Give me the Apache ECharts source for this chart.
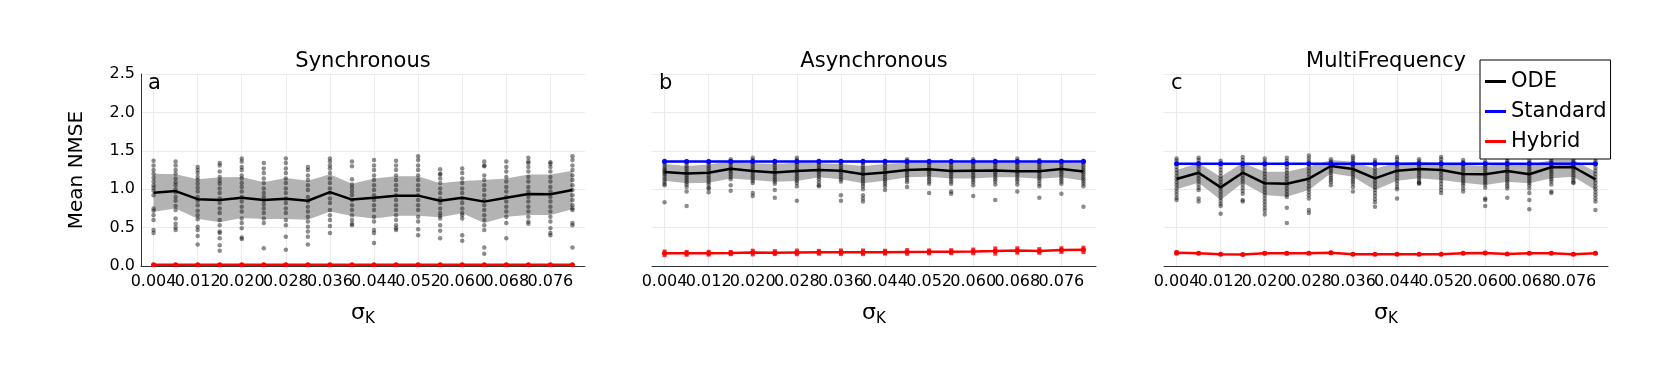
<!DOCTYPE html>
<html>
<head>
<meta charset="utf-8">
<script src="https://cdn.jsdelivr.net/npm/echarts@6/dist/echarts.min.js"></script>
<style>
html, body { margin: 0; padding: 0; background: #fff; }
#chart { width: 1661px; height: 369px; }
</style>
</head>
<body>
<div id="chart"></div>
<script>
const sigmaK = [0.004, 0.008, 0.012, 0.016, 0.020, 0.024, 0.028, 0.032, 0.036, 0.040,
  0.044, 0.048, 0.052, 0.056, 0.060, 0.064, 0.068, 0.072, 0.076, 0.080]
const xTicks = [0.004, 0.012, 0.020, 0.028, 0.036, 0.044, 0.052, 0.060, 0.068, 0.076]
const panelTitles = ['Synchronous', 'Asynchronous', 'MultiFrequency']
const panelLetters = ['a', 'b', 'c']

// Synchronous
const odeMeanA = [0.955, 0.975, 0.87, 0.86, 0.89, 0.86, 0.877, 0.85, 0.962, 0.865, 0.89, 0.916, 0.916, 0.85, 0.89, 0.838, 0.89, 0.937, 0.933, 0.99]
const odeHighA = [1.2, 1.195, 1.13, 1.155, 1.16, 1.09, 1.145, 1.11, 1.195, 1.07, 1.14, 1.17, 1.17, 1.076, 1.107, 1.12, 1.14, 1.19, 1.19, 1.24]
const odeLowA = [0.707, 0.75, 0.615, 0.57, 0.625, 0.612, 0.612, 0.602, 0.71, 0.65, 0.62, 0.655, 0.655, 0.634, 0.686, 0.56, 0.64, 0.664, 0.664, 0.738]
const odeRunsA = [
  [1.37, 1.31, 1.25, 1.2, 1.15, 1.1, 1.05, 1.02, 0.98, 0.92, 0.75, 0.72, 0.66, 0.6, 0.47, 0.43],
  [1.36, 1.31, 1.25, 1.2, 1.14, 1.09, 1.05, 1.0, 0.96, 0.9, 0.85, 0.78, 0.73, 0.62, 0.55, 0.5, 0.47],
  [1.29, 1.25, 1.21, 1.16, 1.12, 1.07, 1.02, 0.97, 0.9, 0.85, 0.79, 0.72, 0.66, 0.61, 0.51, 0.47, 0.39, 0.28],
  [1.34, 1.31, 1.23, 1.16, 1.11, 1.07, 1.01, 0.95, 0.88, 0.82, 0.75, 0.69, 0.6, 0.53, 0.45, 0.43, 0.36, 0.27, 0.2],
  [1.4, 1.36, 1.29, 1.25, 1.18, 1.14, 1.08, 1.03, 0.97, 0.9, 0.84, 0.77, 0.71, 0.62, 0.56, 0.49, 0.37, 0.35],
  [1.34, 1.27, 1.21, 1.14, 1.08, 1.01, 0.95, 0.9, 0.85, 0.8, 0.75, 0.69, 0.62, 0.56, 0.23],
  [1.4, 1.34, 1.27, 1.21, 1.14, 1.08, 1.01, 0.95, 0.88, 0.82, 0.75, 0.69, 0.6, 0.53, 0.38, 0.21],
  [1.29, 1.25, 1.18, 1.12, 1.05, 0.99, 0.9, 0.84, 0.77, 0.71, 0.64, 0.58, 0.51, 0.45, 0.38, 0.28],
  [1.4, 1.36, 1.31, 1.27, 1.21, 1.14, 1.08, 1.01, 0.95, 0.88, 0.82, 0.73, 0.66, 0.6, 0.52, 0.43],
  [1.36, 1.3, 1.13, 1.06, 1.02, 0.97, 0.92, 0.86, 0.79, 0.73, 0.66, 0.6, 0.55, 0.53],
  [1.38, 1.31, 1.25, 1.18, 1.12, 1.05, 0.99, 0.92, 0.86, 0.79, 0.73, 0.64, 0.58, 0.47, 0.43, 0.3],
  [1.37, 1.31, 1.25, 1.18, 1.12, 1.05, 0.99, 0.92, 0.86, 0.79, 0.73, 0.66, 0.6, 0.53, 0.49, 0.47],
  [1.43, 1.38, 1.31, 1.25, 1.18, 1.12, 1.05, 0.99, 0.92, 0.86, 0.79, 0.73, 0.64, 0.58, 0.48, 0.4],
  [1.26, 1.2, 1.19, 1.14, 1.08, 1.01, 0.95, 0.88, 0.82, 0.75, 0.69, 0.65, 0.62, 0.53, 0.46, 0.36],
  [1.27, 1.21, 1.14, 1.08, 1.01, 0.95, 0.88, 0.82, 0.75, 0.69, 0.66, 0.62, 0.4, 0.33],
  [1.36, 1.31, 1.3, 1.18, 1.12, 1.05, 0.99, 0.92, 0.86, 0.79, 0.73, 0.66, 0.6, 0.53, 0.47, 0.24, 0.16],
  [1.36, 1.29, 1.23, 1.16, 1.1, 1.03, 0.97, 0.9, 0.84, 0.77, 0.71, 0.64, 0.56, 0.36],
  [1.41, 1.36, 1.34, 1.29, 1.23, 1.16, 1.1, 1.03, 0.97, 0.9, 0.84, 0.77, 0.71, 0.64, 0.58, 0.55],
  [1.35, 1.33, 1.29, 1.23, 1.16, 1.1, 1.03, 0.97, 0.9, 0.84, 0.77, 0.71, 0.64, 0.58, 0.49, 0.43, 0.4],
  [1.43, 1.38, 1.31, 1.25, 1.18, 1.12, 1.05, 0.99, 0.92, 0.86, 0.79, 0.75, 0.73, 0.56, 0.53, 0.24]
]
const hybridA = [0.015, 0.015, 0.015, 0.015, 0.015, 0.015, 0.015, 0.015, 0.015, 0.015, 0.015, 0.015, 0.015, 0.015, 0.015, 0.015, 0.015, 0.015, 0.015, 0.015]
const hybridErrA = [0.01, 0.01, 0.01, 0.01, 0.01, 0.01, 0.01, 0.01, 0.01, 0.01, 0.01, 0.01, 0.01, 0.01, 0.01, 0.01, 0.01, 0.01, 0.01, 0.01]

// Asynchronous
const odeMeanB = [1.225, 1.205, 1.213, 1.265, 1.237, 1.218, 1.237, 1.25, 1.24, 1.195, 1.216, 1.25, 1.26, 1.238, 1.24, 1.242, 1.235, 1.235, 1.262, 1.23]
const odeHighB = [1.328, 1.302, 1.32, 1.36, 1.337, 1.328, 1.345, 1.337, 1.328, 1.302, 1.328, 1.345, 1.345, 1.337, 1.345, 1.345, 1.345, 1.345, 1.354, 1.337]
const odeLowB = [1.11, 1.076, 1.085, 1.14, 1.12, 1.098, 1.107, 1.155, 1.128, 1.076, 1.11, 1.155, 1.163, 1.14, 1.14, 1.155, 1.155, 1.137, 1.155, 1.11]
const odeRunsB = [
  [1.37, 1.33, 1.3, 1.27, 1.25, 1.23, 1.21, 1.19, 1.16, 1.13, 1.1, 1.07, 1.05, 0.83],
  [1.36, 1.33, 1.3, 1.27, 1.24, 1.21, 1.18, 1.15, 1.12, 1.09, 1.06, 1.03, 0.97, 0.78],
  [1.36, 1.33, 1.3, 1.27, 1.24, 1.21, 1.18, 1.15, 1.12, 1.09, 1.06, 1.02, 1.01, 0.96],
  [1.39, 1.36, 1.33, 1.3, 1.27, 1.25, 1.22, 1.19, 1.16, 1.13, 1.05, 0.98],
  [1.41, 1.38, 1.35, 1.32, 1.29, 1.26, 1.23, 1.2, 1.17, 1.14, 1.11, 1.08, 0.95, 0.91],
  [1.37, 1.34, 1.31, 1.28, 1.25, 1.22, 1.19, 1.16, 1.13, 1.1, 1.07, 0.99, 0.89],
  [1.41, 1.38, 1.35, 1.32, 1.29, 1.26, 1.23, 1.2, 1.17, 1.14, 1.11, 1.08, 1.04, 0.85],
  [1.37, 1.34, 1.31, 1.28, 1.25, 1.22, 1.19, 1.16, 1.13, 1.09, 1.05, 1.04],
  [1.37, 1.34, 1.31, 1.28, 1.25, 1.22, 1.19, 1.16, 1.13, 1.1, 0.92, 0.85],
  [1.37, 1.34, 1.31, 1.28, 1.25, 1.22, 1.19, 1.16, 1.13, 1.1, 1.07, 1.04, 1.0, 0.92, 0.88, 0.84],
  [1.37, 1.34, 1.31, 1.28, 1.25, 1.22, 1.19, 1.16, 1.13, 1.1, 1.07, 1.04, 0.99],
  [1.39, 1.36, 1.33, 1.3, 1.27, 1.24, 1.21, 1.18, 1.15, 1.12, 1.09, 1.03],
  [1.37, 1.34, 1.31, 1.28, 1.25, 1.22, 1.19, 1.16, 1.13, 1.1, 1.07, 0.95],
  [1.37, 1.34, 1.31, 1.28, 1.25, 1.22, 1.19, 1.16, 1.13, 1.1, 1.07, 0.97, 0.94],
  [1.39, 1.36, 1.33, 1.3, 1.27, 1.24, 1.21, 1.18, 1.15, 1.12, 1.09, 1.05, 0.91],
  [1.37, 1.34, 1.31, 1.28, 1.25, 1.22, 1.19, 1.16, 1.13, 1.1, 1.06, 0.86],
  [1.4, 1.37, 1.34, 1.31, 1.28, 1.25, 1.22, 1.19, 1.16, 1.13, 1.1, 1.06, 0.97],
  [1.38, 1.35, 1.32, 1.29, 1.26, 1.23, 1.2, 1.17, 1.14, 1.11, 1.07, 1.04, 0.89],
  [1.37, 1.34, 1.31, 1.28, 1.25, 1.22, 1.19, 1.16, 1.13, 1.1, 1.07, 0.94],
  [1.37, 1.34, 1.31, 1.28, 1.25, 1.22, 1.19, 1.16, 1.13, 1.1, 1.07, 1.04, 0.77]
]
const standardB = [1.36, 1.36, 1.36, 1.36, 1.36, 1.36, 1.36, 1.36, 1.36, 1.36, 1.36, 1.36, 1.36, 1.36, 1.36, 1.36, 1.36, 1.36, 1.36, 1.36]
const hybridB = [0.165, 0.165, 0.167, 0.168, 0.175, 0.174, 0.177, 0.178, 0.179, 0.178, 0.18, 0.183, 0.184, 0.187, 0.19, 0.195, 0.202, 0.196, 0.207, 0.21]
const hybridErrB = [0.05, 0.045, 0.045, 0.04, 0.05, 0.045, 0.05, 0.045, 0.05, 0.05, 0.045, 0.05, 0.045, 0.045, 0.05, 0.06, 0.055, 0.05, 0.05, 0.055]

// MultiFrequency
const odeMeanC = [1.133, 1.215, 1.024, 1.215, 1.076, 1.072, 1.137, 1.302, 1.263, 1.141, 1.241, 1.263, 1.25, 1.198, 1.194, 1.237, 1.194, 1.285, 1.289, 1.128]
const odeHighC = [1.25, 1.337, 1.163, 1.345, 1.228, 1.228, 1.293, 1.38, 1.358, 1.27, 1.345, 1.358, 1.345, 1.315, 1.302, 1.337, 1.315, 1.38, 1.38, 1.228]
const odeLowC = [0.998, 1.085, 0.859, 1.085, 0.924, 0.903, 0.99, 1.207, 1.163, 0.99, 1.111, 1.141, 1.12, 1.085, 1.055, 1.098, 1.076, 1.141, 1.163, 0.99]
const odeRunsC = [
  [1.4, 1.37, 1.33, 1.29, 1.25, 1.21, 1.17, 1.13, 1.09, 1.05, 1.01, 0.97, 0.93, 0.89, 0.86],
  [1.41, 1.38, 1.34, 1.3, 1.26, 1.22, 1.18, 1.14, 1.1, 1.06, 1.02, 0.99, 0.88, 0.84],
  [1.37, 1.33, 1.29, 1.25, 1.21, 1.17, 1.13, 1.09, 1.05, 1.01, 0.97, 0.93, 0.89, 0.85, 0.81, 0.78, 0.68],
  [1.42, 1.38, 1.34, 1.3, 1.26, 1.22, 1.18, 1.14, 1.1, 1.06, 1.02, 0.98, 0.94, 0.86, 0.84],
  [1.4, 1.36, 1.32, 1.28, 1.24, 1.2, 1.16, 1.12, 1.08, 1.04, 1.0, 0.96, 0.92, 0.88, 0.84, 0.8, 0.76, 0.72, 0.67],
  [1.41, 1.37, 1.33, 1.29, 1.25, 1.21, 1.17, 1.13, 1.09, 1.05, 1.01, 0.97, 0.93, 0.9, 0.76, 0.56],
  [1.44, 1.4, 1.36, 1.32, 1.28, 1.24, 1.2, 1.16, 1.12, 1.08, 1.04, 1.0, 0.96, 0.92, 0.88, 0.73, 0.69],
  [1.39, 1.36, 1.33, 1.3, 1.27, 1.24, 1.21, 1.18, 1.15, 1.12, 1.09, 1.05],
  [1.43, 1.4, 1.37, 1.34, 1.31, 1.28, 1.25, 1.22, 1.19, 1.16, 1.13, 1.1, 1.07, 1.03, 0.97],
  [1.38, 1.35, 1.31, 1.27, 1.23, 1.19, 1.15, 1.11, 1.07, 1.03, 0.99, 0.95, 0.91, 0.87, 0.83, 0.77],
  [1.42, 1.39, 1.35, 1.31, 1.27, 1.23, 1.19, 1.15, 1.11, 1.07, 1.03, 1.0, 0.88],
  [1.39, 1.36, 1.33, 1.3, 1.27, 1.24, 1.21, 1.18, 1.15, 1.12, 1.09, 1.08, 1.07],
  [1.42, 1.39, 1.35, 1.31, 1.27, 1.23, 1.19, 1.15, 1.11, 1.07, 1.03, 0.99, 0.95],
  [1.38, 1.35, 1.32, 1.29, 1.26, 1.23, 1.2, 1.17, 1.14, 1.11, 1.08, 1.05, 1.01, 0.97],
  [1.36, 1.33, 1.3, 1.27, 1.24, 1.21, 1.18, 1.15, 1.12, 1.09, 1.06, 1.02, 0.88, 0.86, 0.78],
  [1.4, 1.37, 1.34, 1.31, 1.28, 1.25, 1.22, 1.19, 1.16, 1.13, 1.1, 1.07, 1.04, 1.01, 0.89],
  [1.38, 1.35, 1.32, 1.29, 1.26, 1.23, 1.2, 1.17, 1.14, 1.11, 1.08, 1.05, 1.01, 0.95, 0.86, 0.74],
  [1.4, 1.37, 1.34, 1.31, 1.28, 1.25, 1.22, 1.19, 1.16, 1.13, 1.1, 1.06, 0.97, 0.95],
  [1.39, 1.36, 1.33, 1.3, 1.27, 1.24, 1.21, 1.18, 1.15, 1.12, 1.09, 1.08],
  [1.4, 1.36, 1.32, 1.28, 1.24, 1.2, 1.16, 1.12, 1.08, 1.04, 1.0, 0.96, 0.92, 0.88, 0.84, 0.73]
]
const standardC = [1.33, 1.33, 1.33, 1.33, 1.33, 1.33, 1.33, 1.33, 1.33, 1.33, 1.33, 1.33, 1.33, 1.33, 1.33, 1.33, 1.33, 1.33, 1.33, 1.33]
const hybridC = [0.172, 0.166, 0.153, 0.149, 0.165, 0.165, 0.165, 0.172, 0.153, 0.153, 0.154, 0.154, 0.154, 0.165, 0.17, 0.155, 0.166, 0.167, 0.152, 0.166]
const hybridErrC = [0.035, 0.02, 0.015, 0.015, 0.025, 0.025, 0.02, 0.025, 0.015, 0.015, 0.015, 0.015, 0.015, 0.02, 0.02, 0.015, 0.02, 0.02, 0.02, 0.025]

const panels = [
  { mean: odeMeanA, low: odeLowA, high: odeHighA, runs: odeRunsA, standard: null, hybrid: hybridA, hybridErr: hybridErrA },
  { mean: odeMeanB, low: odeLowB, high: odeHighB, runs: odeRunsB, standard: standardB, hybrid: hybridB, hybridErr: hybridErrB },
  { mean: odeMeanC, low: odeLowC, high: odeHighC, runs: odeRunsC, standard: standardC, hybrid: hybridC, hybridErr: hybridErrC }
]

const FONT = 'DejaVu Sans'
const gridLefts = [141, 652, 1164]
const gridTop = 74
const gridWidth = 444
const gridHeight = 192
// 3% padding on each side of the sigma range, like the original plot
const span = sigmaK[sigmaK.length - 1] - sigmaK[0]
const xMin = sigmaK[0] - 0.03 * span
const xMax = sigmaK[sigmaK.length - 1] + 0.03 * span

const chart = echarts.init(document.getElementById('chart'), null, { renderer: 'canvas' })

const grid = []
const xAxis = []
const yAxis = []
const series = []
const graphic = []

// the tick labels overlap in the original, so every other one goes on a second
// (label only) axis, otherwise echarts drops the overlapping ones
const tickLabelStyle = values => ({
  customValues: values,
  showMinLabel: true,
  showMaxLabel: true,
  hideOverlap: false,
  formatter: v => v.toFixed(3),
  fontSize: 16,
  fontFamily: FONT,
  color: '#000',
  margin: 8
})

panels.forEach((p, i) => {
  grid.push({ left: gridLefts[i], top: gridTop, width: gridWidth, height: gridHeight, containLabel: false, outerBoundsMode: 'none' })
  xAxis.push({
    type: 'value',
    gridIndex: i,
    position: 'bottom',
    min: xMin,
    max: xMax,
    name: '{s|σ}{k|K}',
    nameLocation: 'middle',
    nameGap: 34,
    nameTextStyle: {
      color: '#000',
      rich: {
        s: { fontSize: 22, fontFamily: FONT, color: '#000' },
        k: { fontSize: 15, fontFamily: FONT, color: '#000', padding: [12, 0, 0, 0] }
      }
    },
    axisLine: { show: true, onZero: false, lineStyle: { color: '#333', width: 1 } },
    axisTick: { show: false, customValues: xTicks },
    axisLabel: tickLabelStyle(xTicks.filter((v, k) => k % 2 === 0)),
    splitLine: { show: true, lineStyle: { color: '#ebebeb', width: 1 } }
  })
  xAxis.push({
    type: 'value',
    gridIndex: i,
    position: 'bottom',
    offset: 0,
    min: xMin,
    max: xMax,
    axisLine: { show: false, onZero: false },
    axisTick: { show: false },
    axisLabel: tickLabelStyle(xTicks.filter((v, k) => k % 2 === 1)),
    splitLine: { show: false }
  })
  yAxis.push({
    type: 'value',
    gridIndex: i,
    min: 0,
    max: 2.5,
    interval: 0.5,
    name: i === 0 ? 'Mean NMSE' : '',
    nameLocation: 'middle',
    nameGap: 54,
    nameTextStyle: { fontSize: 20, fontFamily: FONT, color: '#000' },
    axisLine: { show: i === 0, onZero: false, lineStyle: { color: '#333', width: 1 } },
    axisTick: { show: false },
    axisLabel: {
      show: i === 0,
      formatter: v => v.toFixed(1),
      fontSize: 16,
      fontFamily: FONT,
      color: '#000',
      margin: 6
    },
    splitLine: { show: true, lineStyle: { color: '#ebebeb', width: 1 } }
  })

  const xi = i * 2

  // mean ± spread band, drawn as one polygon through the axis scales
  series.push({
    type: 'custom', name: 'band' + i, xAxisIndex: xi, yAxisIndex: i,
    data: sigmaK.map((x, k) => [x, p.low[k], p.high[k]]),
    encode: { x: 0, y: [1, 2] },
    renderItem: (params, api) => {
      if (params.dataIndex !== 0) return
      const upper = sigmaK.map((x, k) => api.coord([x, p.high[k]]))
      const lower = sigmaK.map((x, k) => api.coord([x, p.low[k]])).reverse()
      return {
        type: 'polygon',
        shape: { points: upper.concat(lower) },
        style: { fill: '#b3b3b3' }
      }
    },
    silent: true, z: 1
  })

  // individual runs
  const pts = []
  p.runs.forEach((vals, k) => vals.forEach(v => pts.push([sigmaK[k], v])))
  series.push({
    type: 'scatter', name: 'runs' + i, xAxisIndex: xi, yAxisIndex: i,
    data: pts, symbolSize: 4.5,
    itemStyle: { color: 'rgba(15,15,15,0.6)' }, silent: true, z: 2
  })

  series.push({
    type: 'line', name: 'ODE', xAxisIndex: xi, yAxisIndex: i, color: '#000',
    data: sigmaK.map((x, k) => [x, p.mean[k]]),
    symbol: 'none', lineStyle: { color: '#000', width: 2.5 }, z: 3
  })

  if (p.standard) {
    series.push({
      type: 'line', name: 'Standard', xAxisIndex: xi, yAxisIndex: i, color: '#0000ff',
      data: sigmaK.map((x, k) => [x, p.standard[k]]),
      symbol: 'circle', symbolSize: 5, showSymbol: true,
      itemStyle: { color: '#0000ff' },
      lineStyle: { color: '#0000ff', width: 2.5 }, z: 4
    })
  }

  series.push({
    type: 'custom', name: 'hybridSpread' + i, xAxisIndex: xi, yAxisIndex: i,
    data: sigmaK.map((x, k) => [x, p.hybrid[k] - p.hybridErr[k], p.hybrid[k] + p.hybridErr[k]]),
    encode: { x: 0, y: [1, 2] },
    renderItem: (params, api) => {
      const lo = api.coord([api.value(0), api.value(1)])
      const hi = api.coord([api.value(0), api.value(2)])
      return {
        type: 'line',
        shape: { x1: lo[0], y1: lo[1], x2: hi[0], y2: hi[1] },
        style: { stroke: 'rgba(255,0,0,0.8)', lineWidth: 4 }
      }
    },
    silent: true, z: 5
  })
  series.push({
    type: 'line', name: 'Hybrid', xAxisIndex: xi, yAxisIndex: i, color: '#ff0000',
    data: sigmaK.map((x, k) => [x, p.hybrid[k]]),
    symbol: 'circle', symbolSize: 5, showSymbol: true,
    itemStyle: { color: '#ff0000' },
    lineStyle: { color: '#ff0000', width: 2.5 }, z: 6
  })

  const cx = gridLefts[i] + gridWidth / 2
  graphic.push({
    type: 'text', x: cx, y: 62, z: 10,
    style: { text: panelTitles[i], font: '21px "DejaVu Sans"', fill: '#000', textAlign: 'center', textVerticalAlign: 'middle' }
  })
  graphic.push({
    type: 'text', x: gridLefts[i] + 7, y: 84, z: 10,
    style: { text: panelLetters[i], font: '21px "DejaVu Sans"', fill: '#000', textAlign: 'left', textVerticalAlign: 'middle' }
  })
})

chart.setOption({
  animation: false,
  backgroundColor: '#fff',
  grid: grid,
  xAxis: xAxis,
  yAxis: yAxis,
  series: series,
  graphic: graphic,
  legend: {
    data: ['ODE', 'Standard', 'Hybrid'],
    orient: 'vertical',
    left: 1480,
    top: 60,
    padding: [11, 4, 7, 5],
    itemGap: 9,
    itemWidth: 21,
    itemHeight: 3,
    icon: 'rect',
    borderColor: '#000',
    borderWidth: 1,
    borderRadius: 0,
    backgroundColor: '#fff',
    selectedMode: false,
    textStyle: { fontSize: 21, fontFamily: FONT, color: '#000' },
    z: 20
  }
})
</script>
</body>
</html>
